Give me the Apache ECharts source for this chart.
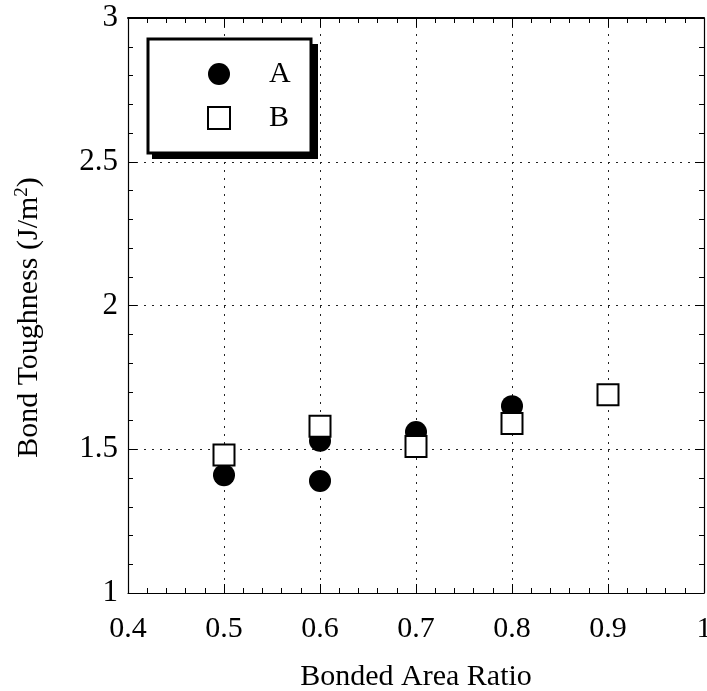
<!DOCTYPE html>
<html>
<head>
<meta charset="utf-8">
<style>
  html, body { margin: 0; padding: 0; background: #fff; overflow: hidden; }
  #chart { width: 707px; height: 691px; }
</style>
<script src="https://cdn.jsdelivr.net/npm/echarts@6/dist/echarts.min.js"></script>
</head>
<body>
<div id="chart"></div>
<script>
// Bonded area ratio vs. bond toughness for two sample sets
const seriesNames = ['A', 'B'];
const ratioA = [0.5, 0.6, 0.6, 0.7, 0.8];
const toughnessA = [1.41, 1.39, 1.53, 1.56, 1.65];
const ratioB = [0.5, 0.6, 0.7, 0.8, 0.9];
const toughnessB = [1.48, 1.58, 1.51, 1.59, 1.69];

const xRange = [0.4, 1.0];
const yRange = [1, 3];

const FONT = '"Liberation Serif", "DejaVu Serif", serif';

function pairs(xs, ys) {
  return xs.map((x, i) => [x, ys[i]]);
}

const chart = echarts.init(document.getElementById('chart'), null, { renderer: 'canvas', width: 707, height: 691 });

const baseAxis = {
  axisLine: { show: true, onZero: false, lineStyle: { color: '#000', width: 1.2 } },
  axisTick: { show: true, inside: true, length: 9, lineStyle: { color: '#000', width: 1 } },
  minorTick: { show: true, splitNumber: 5, length: 5, lineStyle: { color: '#000', width: 1 } },
  splitLine: { show: false }
};

const option = {
  animation: false,
  backgroundColor: '#fff',
  grid: { left: 128, right: 3, top: 18, bottom: 98, containLabel: false, outerBoundsMode: 'none' },
  legend: {
    data: seriesNames,
    orient: 'vertical',
    left: 202,
    top: 54,
    itemWidth: 22,
    itemHeight: 22,
    itemGap: 14,
    selectedMode: false,
    textStyle: { fontFamily: FONT, fontSize: 30, color: '#000', padding: [0, 0, 0, 34] }
  },
  graphic: [
    // legend frame with a drop shadow
    { type: 'rect', z: 1, shape: { x: 152, y: 44, width: 166, height: 115 }, style: { fill: '#000' } },
    { type: 'rect', z: 2, shape: { x: 148, y: 39, width: 163, height: 114 }, style: { fill: '#fff', stroke: '#000', lineWidth: 3 } }
  ],
  xAxis: [
    Object.assign({}, baseAxis, {
      type: 'value',
      min: xRange[0], max: xRange[1], interval: 0.1,
      position: 'bottom',
      name: 'Bonded Area Ratio',
      nameLocation: 'middle',
      nameGap: 69,
      nameTextStyle: { fontFamily: FONT, fontSize: 30, color: '#000' },
      axisLabel: {
        margin: 21,
        fontFamily: FONT, fontSize: 30, color: '#000',
        formatter: v => (Math.abs(v - 1) < 1e-9 ? '1' : v.toFixed(1))
      },
      splitLine: { show: true, lineStyle: { color: '#222', type: [2, 6], width: 1 } }
    }),
    Object.assign({}, baseAxis, {
      type: 'value',
      min: xRange[0], max: xRange[1], interval: 0.1,
      position: 'top',
      axisLabel: { show: false },
      axisLine: { show: true, onZero: false, lineStyle: { color: '#000', width: 2 } }
    })
  ],
  yAxis: [
    Object.assign({}, baseAxis, {
      type: 'value',
      min: yRange[0], max: yRange[1], interval: 0.5,
      position: 'left',
      name: 'Bond Toughness (J/m{sup|2})',
      nameLocation: 'middle',
      nameGap: 82,
      nameTextStyle: {
        fontFamily: FONT, fontSize: 30, color: '#000',
        padding: [0, 24, 0, 0],
        rich: { sup: { fontFamily: FONT, fontSize: 19, color: '#000', verticalAlign: 'top', padding: [0, 0, 14, 0] } }
      },
      axisLabel: {
        margin: 10,
        fontFamily: FONT, fontSize: 31, color: '#000',
        formatter: v => String(v)
      },
      splitLine: { show: true, lineStyle: { color: '#222', type: [2, 6], width: 1 } }
    }),
    Object.assign({}, baseAxis, {
      type: 'value',
      min: yRange[0], max: yRange[1], interval: 0.5,
      position: 'right',
      axisLabel: { show: false }
    })
  ],
  series: [
    {
      name: seriesNames[0],
      type: 'scatter',
      symbol: 'circle',
      symbolSize: 22,
      z: 3,
      itemStyle: { color: '#000', opacity: 1 },
      data: pairs(ratioA, toughnessA)
    },
    {
      name: seriesNames[1],
      type: 'scatter',
      symbol: 'rect',
      symbolSize: 21,
      z: 4,
      itemStyle: { color: '#fff', borderColor: '#000', borderWidth: 2, opacity: 1 },
      data: pairs(ratioB, toughnessB)
    }
  ]
};

chart.setOption(option);
</script>
</body>
</html>
